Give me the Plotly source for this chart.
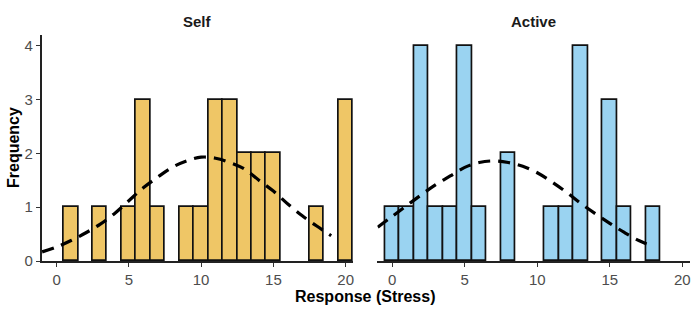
import plotly.graph_objects as go

# ---- data ----
self_x = [1, 3, 5, 6, 7, 9, 10, 11, 12, 13, 14, 15, 18, 20]
self_counts = [1, 1, 1, 3, 1, 1, 1, 3, 3, 2, 2, 2, 1, 3]
active_x = [0, 1, 2, 3, 4, 5, 6, 8, 11, 12, 13, 15, 16, 18]
active_counts = [1, 1, 4, 1, 1, 4, 1, 2, 1, 1, 4, 3, 1, 1]

self_curve_x = [-1, 0, 1, 2, 3, 4, 5, 6, 7, 8, 9, 10, 11, 12, 13, 14, 15, 16, 17, 18, 19]
self_curve_y = [0.17, 0.26, 0.38, 0.52, 0.68, 0.88, 1.12, 1.36, 1.56, 1.74, 1.86, 1.93,
                1.91, 1.83, 1.71, 1.50, 1.30, 1.06, 0.84, 0.65, 0.47]
active_curve_x = [-1, 0, 1, 2, 3, 4, 5, 6, 7, 8, 9, 10, 11, 12, 13, 14, 15, 16, 17, 18]
active_curve_y = [0.63, 0.83, 1.03, 1.23, 1.42, 1.58, 1.74, 1.83, 1.86, 1.83, 1.76, 1.64,
                  1.47, 1.28, 1.07, 0.88, 0.70, 0.53, 0.38, 0.27]

x_ticks = [0, 5, 10, 15, 20]
y_ticks = [0, 1, 2, 3, 4]
panel_titles = ["Self", "Active"]

W, H = 698, 310
FONT = "Liberation Sans"
TICKC = "#4d4d4d"

fig = go.Figure()

fig.add_trace(go.Bar(x=self_x, y=self_counts, width=1, xaxis="x", yaxis="y",
                     marker=dict(color="#EFC666", line=dict(color="#111111", width=1.7)),
                     showlegend=False))
fig.add_trace(go.Scatter(x=self_curve_x, y=self_curve_y, mode="lines", xaxis="x", yaxis="y",
                         line=dict(color="black", width=3.2, dash="12px,8px", shape="spline"),
                         showlegend=False))
fig.add_trace(go.Bar(x=active_x, y=active_counts, width=1, xaxis="x2", yaxis="y2",
                     marker=dict(color="#9AD3F1", line=dict(color="#111111", width=1.7)),
                     showlegend=False))
fig.add_trace(go.Scatter(x=active_curve_x, y=active_curve_y, mode="lines", xaxis="x2", yaxis="y2",
                         line=dict(color="black", width=3.2, dash="12px,8px", shape="spline"),
                         showlegend=False))

xl0, xl1 = 41.7 / W, 353.3 / W
xr0, xr1 = 377.3 / W, 690.0 / W
yb, yt = (H - 261) / H, (H - 35) / H

xcommon = dict(range=[-1.03, 20.53], tickvals=x_ticks, ticks="outside", ticklen=4,
               tickcolor="#333333", tickwidth=1, showline=True, linecolor="#222222", linewidth=1.5,
               showgrid=False, zeroline=False, tickfont=dict(family=FONT, size=15, color=TICKC),
               fixedrange=True, automargin=False)
fig.update_layout(
    width=W, height=H,
    margin=dict(l=0, r=0, t=0, b=0, autoexpand=False),
    plot_bgcolor="white", paper_bgcolor="white",
    bargap=0,
    xaxis=dict(domain=[xl0, xl1], anchor="y", **xcommon),
    xaxis2=dict(domain=[xr0, xr1], anchor="y2", **xcommon),
    yaxis=dict(domain=[yb, yt], anchor="x", range=[0, 4.2], tickvals=y_ticks, ticks="outside",
               ticklen=4, tickcolor="#333333", showline=True, linecolor="#222222", linewidth=1.5,
               showgrid=False, zeroline=False, automargin=False, fixedrange=True,
               tickfont=dict(family=FONT, size=15, color=TICKC)),
    yaxis2=dict(domain=[yb, yt], anchor="x2", range=[0, 4.2], showticklabels=False, ticks="",
                showline=False, showgrid=False, zeroline=False, automargin=False, fixedrange=True),
    annotations=[
        dict(text="<b>%s</b>" % panel_titles[0], x=(xl0 + xl1) / 2, y=(H - 22) / H, xref="paper", yref="paper",
             showarrow=False, font=dict(family=FONT, size=15, color="#1a1a1a"), xanchor="center", yanchor="middle"),
        dict(text="<b>%s</b>" % panel_titles[1], x=(xr0 + xr1) / 2, y=(H - 22) / H, xref="paper", yref="paper",
             showarrow=False, font=dict(family=FONT, size=15, color="#1a1a1a"), xanchor="center", yanchor="middle"),
        dict(text="<b>Response (Stress)</b>", x=366 / W, y=(H - 296) / H, xref="paper", yref="paper",
             showarrow=False, font=dict(family=FONT, size=16, color="black"), xanchor="center", yanchor="middle"),
        dict(text="<b>Frequency</b>", x=13 / W, y=(H - 148) / H, xref="paper", yref="paper", textangle=-90,
             showarrow=False, font=dict(family=FONT, size=16, color="black"), xanchor="center", yanchor="middle"),
    ],
)

fig.write_html("out.html", config={"displayModeBar": False},
               post_script="document.body.style.margin='0';document.body.style.overflow='hidden';")
